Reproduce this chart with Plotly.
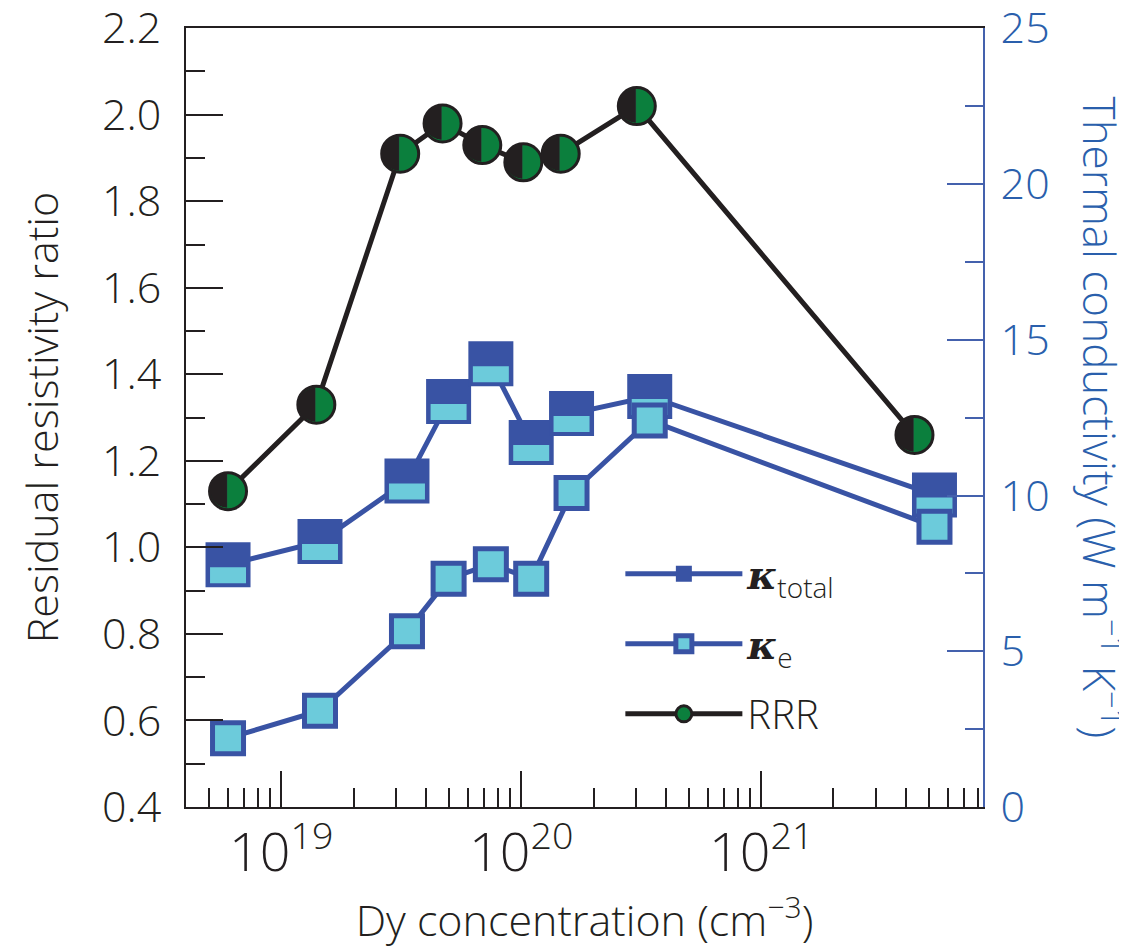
import plotly.graph_objects as go

# Residual resistivity ratio (left axis)
rrr_x = [6.0e18, 1.40e19, 3.13e19, 4.70e19, 6.88e19, 1.02e20, 1.46e20, 3.03e20, 4.35e21]
rrr = [1.13, 1.33, 1.91, 1.98, 1.93, 1.89, 1.91, 2.02, 1.26]

# Thermal conductivity, W m-1 K-1 (right axis)
kappa_x = [6.0e18, 1.45e19, 3.34e19, 4.98e19, 7.47e19, 1.10e20, 1.62e20, 3.43e20, 5.27e21]
kappa_total = [7.78, 8.52, 10.47, 13.02, 14.23, 11.70, 12.63, 13.18, 10.02]
kappa_e = [2.21, 3.09, 5.64, 7.33, 7.79, 7.33, 10.08, 12.41, 9.00]

BLACK = "#231f20"
GREEN = "#0b7f3d"
DARK_BLUE = "#3953a4"
CYAN = "#6ccbdb"
AXIS_BLUE = "#4461ad"
LABEL_BLUE = "#2a5fac"
FONT = "Open Sans"
FS = 43
WEIGHT = 350

X_RANGE = [18.603, 21.924]
# small pixel offsets used to place the two-tone parts of the markers
BAND_SHIFT = 0.337      # right-axis units, ~10 px down
HALF_SHIFT = 0.0354     # decades, ~8.5 px left

kappa_sym = "<span style=\"font-family:'DejaVu Serif'\"><b><i>κ</i></b></span>"

fig = go.Figure()

# kappa_total: dark squares
fig.add_trace(go.Scatter(
    x=kappa_x, y=kappa_total, yaxis="y2", mode="lines+markers",
    name=kappa_sym + "<sub>total</sub>", legendgroup="a",
    line=dict(color=DARK_BLUE, width=5),
    marker=dict(symbol="square", size=45, color=DARK_BLUE, line=dict(width=0)),
    legendrank=1,
))
# light band in the lower half of each kappa_total square
fig.add_trace(go.Scatter(
    x=kappa_x, y=kappa_total, yaxis="y3", mode="markers",
    marker=dict(symbol="line-ew", size=25.7, line=dict(color=CYAN, width=16)),
    showlegend=False, hoverinfo="skip",
))
# kappa_e
fig.add_trace(go.Scatter(
    x=kappa_x, y=kappa_e, yaxis="y4", mode="lines+markers",
    name=kappa_sym + "<sub>e</sub>", legendgroup="b",
    line=dict(color=DARK_BLUE, width=5),
    marker=dict(symbol="square", size=31, color=CYAN, line=dict(color=DARK_BLUE, width=5)),
    legendrank=2,
))
# RRR
fig.add_trace(go.Scatter(
    x=rrr_x, y=rrr, mode="lines+markers", name="RRR", legendgroup="c",
    line=dict(color=BLACK, width=5),
    marker=dict(symbol="circle", size=37, color=GREEN, line=dict(color=BLACK, width=3)),
    legendrank=3,
))
# black left half of the RRR circles
fig.add_trace(go.Scatter(
    x=rrr_x, y=rrr, xaxis="x2", mode="text", text=["◖"] * len(rrr),
    textposition="middle center",
    textfont=dict(family="DejaVu Sans", size=44, color=BLACK, weight=400),
    showlegend=False, hoverinfo="skip",
))

fig.update_layout(
    width=1119, height=941,
    margin=dict(l=177.7, r=144.3, t=20.3, b=141.7),
    paper_bgcolor="white", plot_bgcolor="white",
    font=dict(family=FONT, size=FS, color=BLACK),
    xaxis=dict(
        type="log", range=X_RANGE, dtick=1, exponentformat="power",
        showline=True, linecolor=BLACK, linewidth=2, mirror=True,
        ticks="inside", ticklen=36, tickwidth=2, tickcolor=BLACK,
        minor=dict(ticks="inside", ticklen=19, tickwidth=2, tickcolor=BLACK, dtick="D1", showgrid=False),
        showgrid=False, zeroline=False, ticklabeloverflow="allow", automargin=False,
        tickfont=dict(size=FS, color=BLACK, weight=WEIGHT),
        title=dict(text="Dy concentration (cm<sup>−3</sup>)",
                   font=dict(size=FS, color=BLACK, weight=WEIGHT), standoff=20),
    ),
    xaxis2=dict(
        type="log", overlaying="x", visible=False, automargin=False,
        range=[X_RANGE[0] + HALF_SHIFT, X_RANGE[1] + HALF_SHIFT],
    ),
    yaxis=dict(
        range=[0.4, 2.2005], tick0=0.4, dtick=0.2, tickformat=".1f",
        showline=True, linecolor=BLACK, linewidth=2,
        ticks="inside", ticklen=37, tickwidth=2, tickcolor=BLACK,
        minor=dict(ticks="inside", ticklen=19, tickwidth=2, tickcolor=BLACK, dtick=0.1, showgrid=False),
        showgrid=False, zeroline=False, ticklabelstandoff=14,
        ticklabeloverflow="allow", automargin=False,
        tickfont=dict(size=FS, color=BLACK, weight=WEIGHT),
        title=dict(text="Residual resistivity ratio",
                   font=dict(size=FS, color=BLACK, weight=WEIGHT), standoff=30),
    ),
    yaxis2=dict(
        overlaying="y", side="right", range=[0, 25.01], dtick=5,
        showline=True, linecolor=AXIS_BLUE, linewidth=2,
        ticks="inside", ticklen=36, tickwidth=2, tickcolor=AXIS_BLUE,
        minor=dict(ticks="inside", ticklen=18, tickwidth=2, tickcolor=AXIS_BLUE, dtick=2.5, showgrid=False),
        showgrid=False, zeroline=False, ticklabelstandoff=7,
        ticklabeloverflow="allow", automargin=False,
        tickfont=dict(size=FS, color=LABEL_BLUE, weight=WEIGHT),
    ),
    yaxis3=dict(overlaying="y", range=[BAND_SHIFT, 25.01 + BAND_SHIFT], visible=False, automargin=False),
    yaxis4=dict(overlaying="y", range=[0, 25.01], visible=False, automargin=False),
    legend=dict(
        x=0.545, y=0.341, xanchor="left", yanchor="top",
        bgcolor="rgba(0,0,0,0)", font=dict(size=40, color=BLACK, weight=WEIGHT),
        itemwidth=117, tracegroupgap=15,
    ),
    annotations=[dict(
        text="Thermal conductivity (W m<sup>−1</sup> K<sup>−1</sup>)",
        textangle=90, xref="paper", yref="paper", x=1.1505, y=0.5,
        xanchor="center", yanchor="middle", showarrow=False,
        font=dict(size=44, color=LABEL_BLUE, weight=WEIGHT),
    )],
)

fig.write_html("out.html")
